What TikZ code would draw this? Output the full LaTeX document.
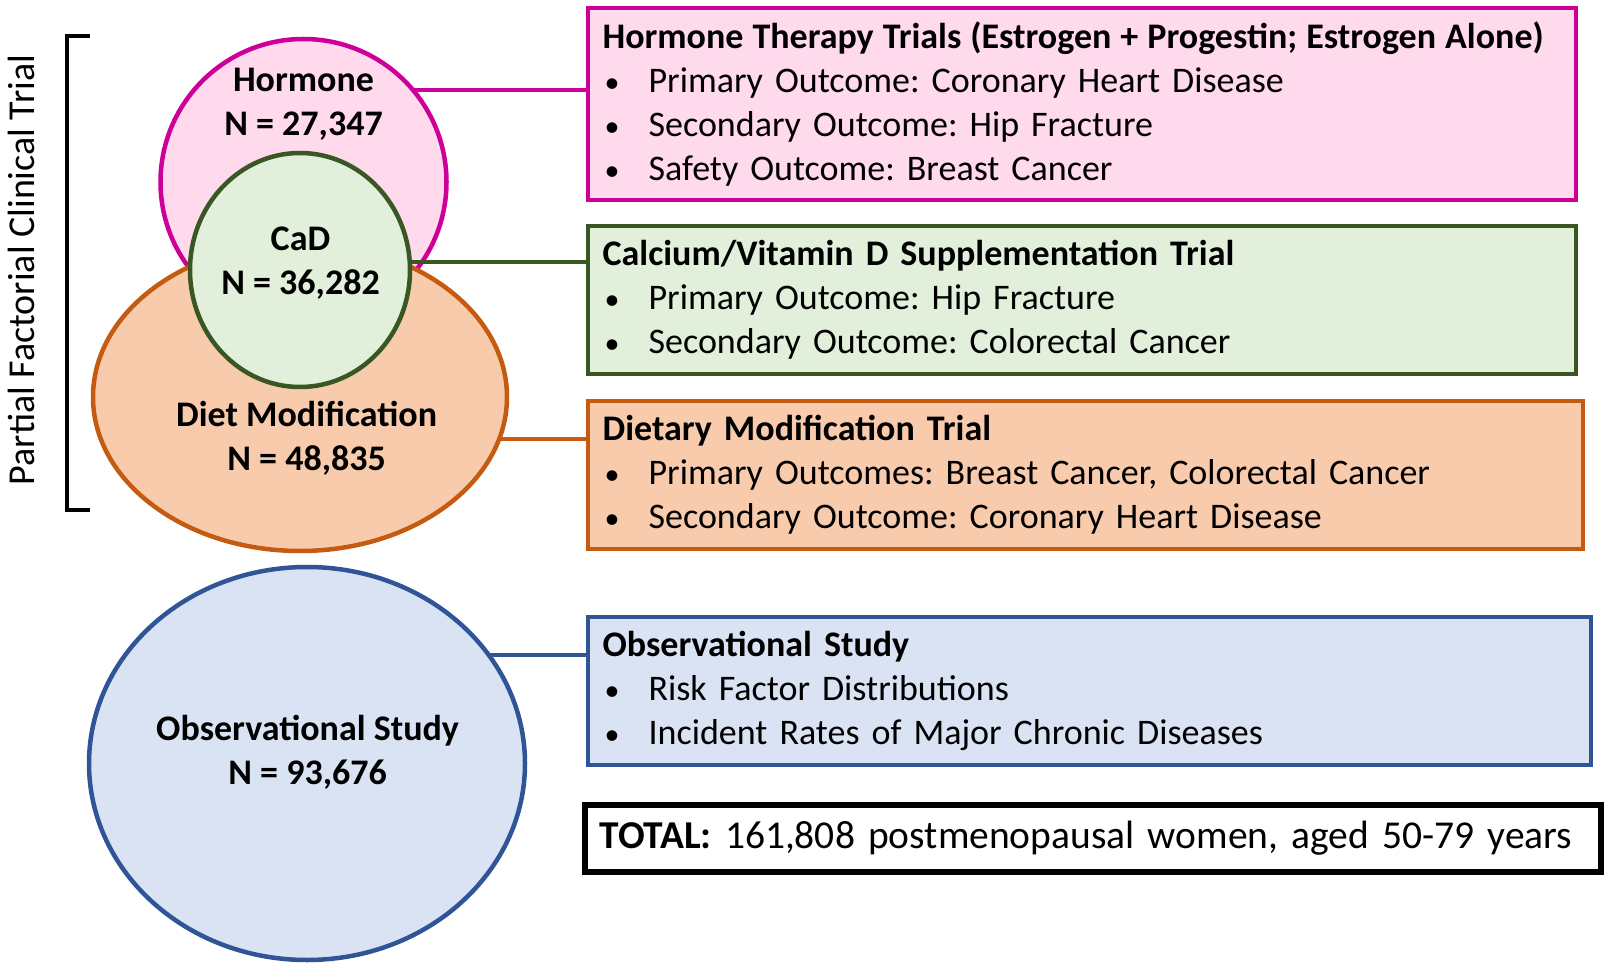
\documentclass[tikz,border=0pt]{standalone}
\usepackage{fontspec}
\setmainfont{Carlito}
\usetikzlibrary{shapes.geometric}

\definecolor{hormoneline}{RGB}{204,0,153}
\definecolor{hormonefill}{RGB}{255,217,236}
\definecolor{cadline}{RGB}{56,87,35}
\definecolor{cadfill}{RGB}{226,239,218}
\definecolor{dietline}{RGB}{197,90,17}
\definecolor{dietfill}{RGB}{248,203,173}
\definecolor{obsline}{RGB}{47,85,151}
\definecolor{obsfill}{RGB}{218,227,243}

\newcommand{\bulletline}[1]{\makebox[46pt][l]{\hspace{2pt}{\fontsize{30}{44}\selectfont\textbullet}}#1}

\begin{document}
\frenchspacing
\begin{tikzpicture}[
        x=1pt, y=-1pt,
        font=\fontsize{36}{44}\selectfont,
        group/.style={ellipse, draw, line width=4.5pt, inner sep=0pt, outer sep=0pt},
        grouptext/.style={font=\fontsize{36}{44}\selectfont\bfseries, align=center},
        trialbox/.style={draw, line width=4pt, anchor=north west, inner xsep=15pt, inner ysep=0pt, outer sep=0pt, align=left},
        link/.style={line width=4pt},
    ]
        \useasboundingbox (0,0) rectangle (1608,968);

        % the four study groups
        \node[group, draw=hormoneline, fill=hormonefill, minimum width=286pt, minimum height=286pt] (hormone) at (303.5,182) {};
        \node[group, draw=dietline, fill=dietfill, minimum width=414pt, minimum height=308pt] (diet) at (300,397) {};
        \node[group, draw=cadline, fill=cadfill, minimum width=220pt, minimum height=234pt] (cad) at (300,270) {};
        \node[group, draw=obsline, fill=obsfill, minimum width=436pt, minimum height=393pt] (obs) at (307,763.5) {};

        \node[grouptext] (hormonetext) at (303.5,104.5) {Hormone\\N = 27,347};
        \node[grouptext] (cadtext) at (300.5,263) {CaD\\N = 36,282};
        \node[grouptext] (diettext) at (306.6,438) {Diet Modification\\N = 48,835};
        \node[grouptext] (obstext) at (307.6,752) {Observational Study\\N = 93,676};

        % bracket
        \draw[line width=4.5pt] (90,36) -- (67,36) -- (67,510) -- (90,510);
        \node[rotate=90, font=\fontsize{38}{44}\selectfont] (factorial) at (21,270) {Partial Factorial Clinical Trial};

        % trial boxes
        \node[trialbox, draw=hormoneline, fill=hormonefill, text width=958pt, minimum height=192pt] (hormonebox) at (587.6,8.2)
            {\mbox{\spaceskip=0.25em\bfseries Hormone Therapy Trials (Estrogen + Progestin; Estrogen Alone)}\\
             \bulletline{Primary Outcome: Coronary Heart Disease}\\
             \bulletline{Secondary Outcome: Hip Fracture}\\
             \bulletline{Safety Outcome: Breast Cancer}};
        \node[trialbox, draw=cadline, fill=cadfill, text width=958pt, minimum height=148pt] (cadbox) at (587.6,225.6)
            {\textbf{Calcium/Vitamin D Supplementation Trial}\\
             \bulletline{Primary Outcome: Hip Fracture}\\
             \bulletline{Secondary Outcome: Colorectal Cancer}};
        \node[trialbox, draw=dietline, fill=dietfill, text width=965pt, minimum height=148pt] (dietbox) at (587.6,401)
            {\textbf{Dietary Modification Trial}\\
             \bulletline{Primary Outcomes: Breast Cancer, Colorectal Cancer}\\
             \bulletline{Secondary Outcome: Coronary Heart Disease}};
        \node[trialbox, draw=obsline, fill=obsfill, text width=973pt, minimum height=148pt] (obsbox) at (587.6,617)
            {\textbf{Observational Study}\\
             \bulletline{Risk Factor Distributions}\\
             \bulletline{Incident Rates of Major Chronic Diseases}};
        \node[trialbox, draw=black, line width=6pt, text width=986pt, minimum height=67pt, font=\fontsize{39.5}{44}\selectfont] (total) at (584.5,805)
            {\textbf{TOTAL:}\ 161,808 postmenopausal women, aged 50-79 years};

        % links
        \draw[link, hormoneline] (hormone.40) -- (hormone.40 -| hormonebox.west);
        \draw[link, cadline] (cad.4) -- (cad.4 -| cadbox.west);
        \draw[link, dietline] (diet.-12) -- (diet.-12 -| dietbox.west);
        \draw[link, obsline] (obs.31) -- (obs.31 -| obsbox.west);
    \end{tikzpicture}
\end{document}
